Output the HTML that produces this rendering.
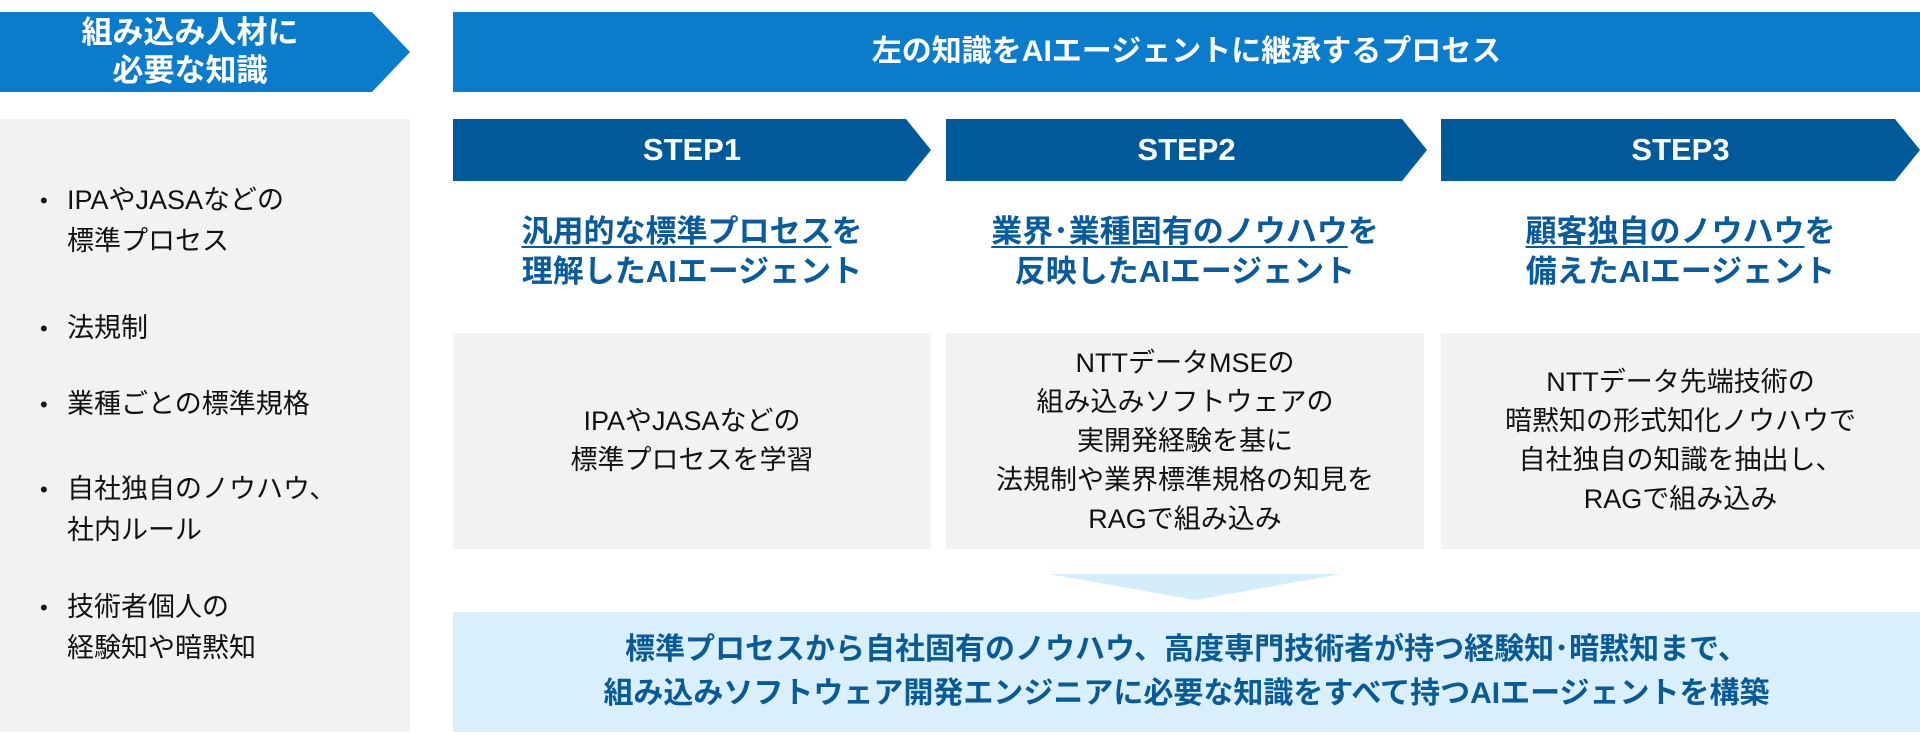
<!DOCTYPE html>
<html><head><meta charset="utf-8"><style>
body{margin:0;width:1920px;height:735px;background:#fff;position:relative;overflow:hidden;font-family:"Liberation Sans","Noto Sans CJK JP",sans-serif}
.a{position:absolute}
.c{display:flex;align-items:center;justify-content:center;text-align:center}
.hdr{color:#fff;font-weight:bold;font-size:30px;line-height:38px}
.step{color:#fff;font-weight:bold;font-size:31px;background:#005a99}
.ttl{color:#0a5b9c;font-weight:bold;font-size:31px;line-height:40px;text-align:center}
.ttl u{text-decoration-thickness:2px;text-underline-offset:4px}
.box{background:#f2f2f2;font-size:27px;line-height:39px;color:#111}
.li{position:absolute;left:67px;font-size:27px;line-height:41px;color:#111}
.li:before{content:"•";position:absolute;left:-27px;font-size:22px}
</style></head><body>
<div class="a c hdr" style="left:0;top:12px;width:410px;height:80px;background:#0a7ccb;clip-path:polygon(0 0,372px 0,410px 50%,372px 100%,0 100%);padding-right:30px;box-sizing:border-box;font-size:31px">組み込み人材に<br>必要な知識</div>
<div class="a c hdr" style="left:453px;top:12px;width:1467px;height:80px;background:#0a7ccb">左の知識をAIエージェントに継承するプロセス</div>
<div class="a" style="left:0;top:119px;width:410px;height:613px;background:#f2f2f2"></div>
<div class="li" style="top:180px">IPAやJASAなどの<br>標準プロセス</div>
<div class="li" style="top:308px">法規制</div>
<div class="li" style="top:384px">業種ごとの標準規格</div>
<div class="li" style="top:469px">自社独自のノウハウ、<br>社内ルール</div>
<div class="li" style="top:587px">技術者個人の<br>経験知や暗黙知</div>

<div class="a c step" style="left:453px;top:119px;width:478px;height:62px;clip-path:polygon(0 0,453px 0,478px 50%,453px 100%,0 100%)">STEP1</div>
<div class="a c step" style="left:946px;top:119px;width:481px;height:62px;clip-path:polygon(0 0,456px 0,481px 50%,456px 100%,0 100%)">STEP2</div>
<div class="a c step" style="left:1441px;top:119px;width:479px;height:62px;clip-path:polygon(0 0,454px 0,479px 50%,454px 100%,0 100%)">STEP3</div>

<div class="a ttl" style="left:453px;top:212px;width:478px"><u>汎用的な標準プロセス</u>を<br>理解したAIエージェント</div>
<div class="a ttl" style="left:946px;top:212px;width:478px"><u>業界･業種固有のノウハウ</u>を<br>反映したAIエージェント</div>
<div class="a ttl" style="left:1441px;top:212px;width:479px"><u>顧客独自のノウハウ</u>を<br>備えたAIエージェント</div>

<div class="a c box" style="left:453px;top:333px;width:478px;height:216px">IPAやJASAなどの<br>標準プロセスを学習</div>
<div class="a c box" style="left:946px;top:333px;width:478px;height:216px">NTTデータMSEの<br>組み込みソフトウェアの<br>実開発経験を基に<br>法規制や業界標準規格の知見を<br>RAGで組み込み</div>
<div class="a c box" style="left:1441px;top:333px;width:479px;height:216px">NTTデータ先端技術の<br>暗黙知の形式知化ノウハウで<br>自社独自の知識を抽出し、<br>RAGで組み込み</div>

<div class="a" style="left:1049px;top:574px;width:292px;height:26px;background:#d4edfb;clip-path:polygon(0 0,100% 0,50% 100%)"></div>
<div class="a c" style="left:453px;top:612px;width:1467px;height:120px;background:#d9effc;color:#0a5a96;font-weight:bold;font-size:30px;line-height:44px">標準プロセスから自社固有のノウハウ、高度専門技術者が持つ経験知･暗黙知まで、<br>組み込みソフトウェア開発エンジニアに必要な知識をすべて持つAIエージェントを構築</div>
</body></html>
